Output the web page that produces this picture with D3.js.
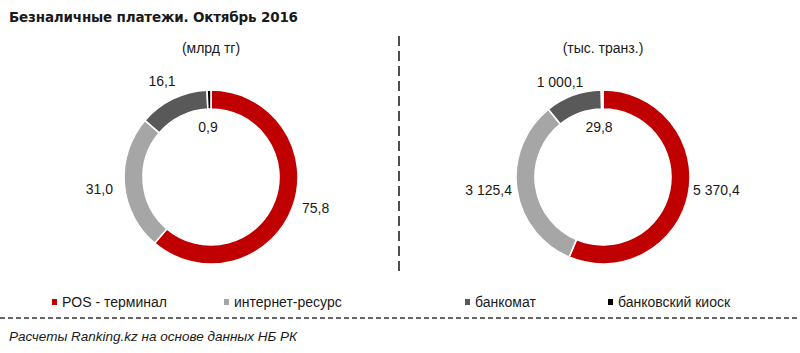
<!DOCTYPE html>
<html>
<head>
<meta charset="utf-8">
<script src="https://cdn.jsdelivr.net/npm/d3@7"></script>
<style>
  body { margin: 0; background: #fff; }
  svg { display: block; }
  text { font-family: "Liberation Sans", Arial, sans-serif; fill: #1a1a1a; }
</style>
</head>
<body>
<svg id="chart" width="800" height="353"></svg>
<script>
// Data
let categories = ["POS - терминал", "интернет-ресурс", "банкомат", "банковский киоск"]
let colors = ["#c00000", "#a6a6a6", "#595959", "#000000"]
let valuesMoney = [75.8, 31.0, 16.1, 0.9]       // млрд тг
let labelsMoney = ["75,8", "31,0", "16,1", "0,9"]
let valuesCount = [5370.4, 3125.4, 1000.1, 29.8] // тыс. транз.
let labelsCount = ["5 370,4", "3 125,4", "1 000,1", "29,8"]

let W = 800, H = 353
let svg = d3.select("#chart")

// Title
svg.append("text")
    .attr("x", 9).attr("y", 22)
    .style("font-family", "'DejaVu Sans', Verdana, sans-serif")
    .style("font-weight", "bold")
    .style("font-size", "13.5px")
    .attr("textLength", 289)
    .text("Безналичные платежи. Октябрь 2016")

// Label placement (offset from donut center + anchor)
let leftLabelPos = [[91, 31, "start"], [-98, 12, "end"], [-49, -96, "middle"], [-3, -50, "middle"]]
let rightLabelPos = [[90, 13, "start"], [-91, 13, "end"], [-43, -95, "middle"], [-4, -50, "middle"]]

function renderDonut(values, labels, cx, cy, subtitle, labelPos) {
    let g = svg.append("g").attr("transform", `translate(${cx},${cy})`)

    let pie = d3.pie().sort(null).value(d => d)
    let arc = d3.arc().innerRadius(68).outerRadius(87)

    g.selectAll("path")
        .data(pie(values))
        .enter()
        .append("path")
        .attr("d", arc)
        .attr("fill", (d, i) => colors[i])
        .attr("stroke", "#fff")
        .attr("stroke-width", 1.6)

    g.selectAll("text.lbl")
        .data(labels)
        .enter()
        .append("text")
        .attr("class", "lbl")
        .attr("x", (d, i) => labelPos[i][0])
        .attr("y", (d, i) => labelPos[i][1])
        .attr("text-anchor", (d, i) => labelPos[i][2])
        .attr("dominant-baseline", "central")
        .style("font-size", "14px")
        .text(d => d)

    svg.append("text")
        .attr("x", cx).attr("y", 53)
        .attr("text-anchor", "middle")
        .style("font-size", "14px")
        .text(subtitle)
}

renderDonut(valuesMoney, labelsMoney, 211, 177, "(млрд тг)", leftLabelPos)
renderDonut(valuesCount, labelsCount, 603, 177, "(тыс. транз.)", rightLabelPos)

// Vertical separator
svg.append("line")
    .attr("x1", 399).attr("x2", 399)
    .attr("y1", 36).attr("y2", 271)
    .attr("stroke", "#222")
    .attr("stroke-width", 1.6)
    .attr("stroke-dasharray", "10,5")

// Legend
let legendX = [52, 224, 465, 608]
let legend = svg.selectAll("g.leg")
    .data(categories)
    .enter()
    .append("g")
    .attr("class", "leg")
    .attr("transform", (d, i) => `translate(${legendX[i]},302)`)

legend.append("rect")
    .attr("x", 0).attr("y", -3)
    .attr("width", 5).attr("height", 6)
    .attr("fill", (d, i) => colors[i])

legend.append("text")
    .attr("x", 10).attr("y", 0)
    .attr("dominant-baseline", "central")
    .style("font-size", "14px")
    .text(d => d)

// Horizontal separator
svg.append("line")
    .attr("x1", 0).attr("x2", W)
    .attr("y1", 318).attr("y2", 318)
    .attr("stroke", "#333")
    .attr("stroke-width", 1.3)
    .attr("stroke-dasharray", "5,3")

// Footer
svg.append("text")
    .attr("x", 9).attr("y", 341)
    .style("font-size", "13.5px")
    .style("font-style", "italic")
    .text("Расчеты Ranking.kz на основе данных НБ РК")
</script>
</body>
</html>
